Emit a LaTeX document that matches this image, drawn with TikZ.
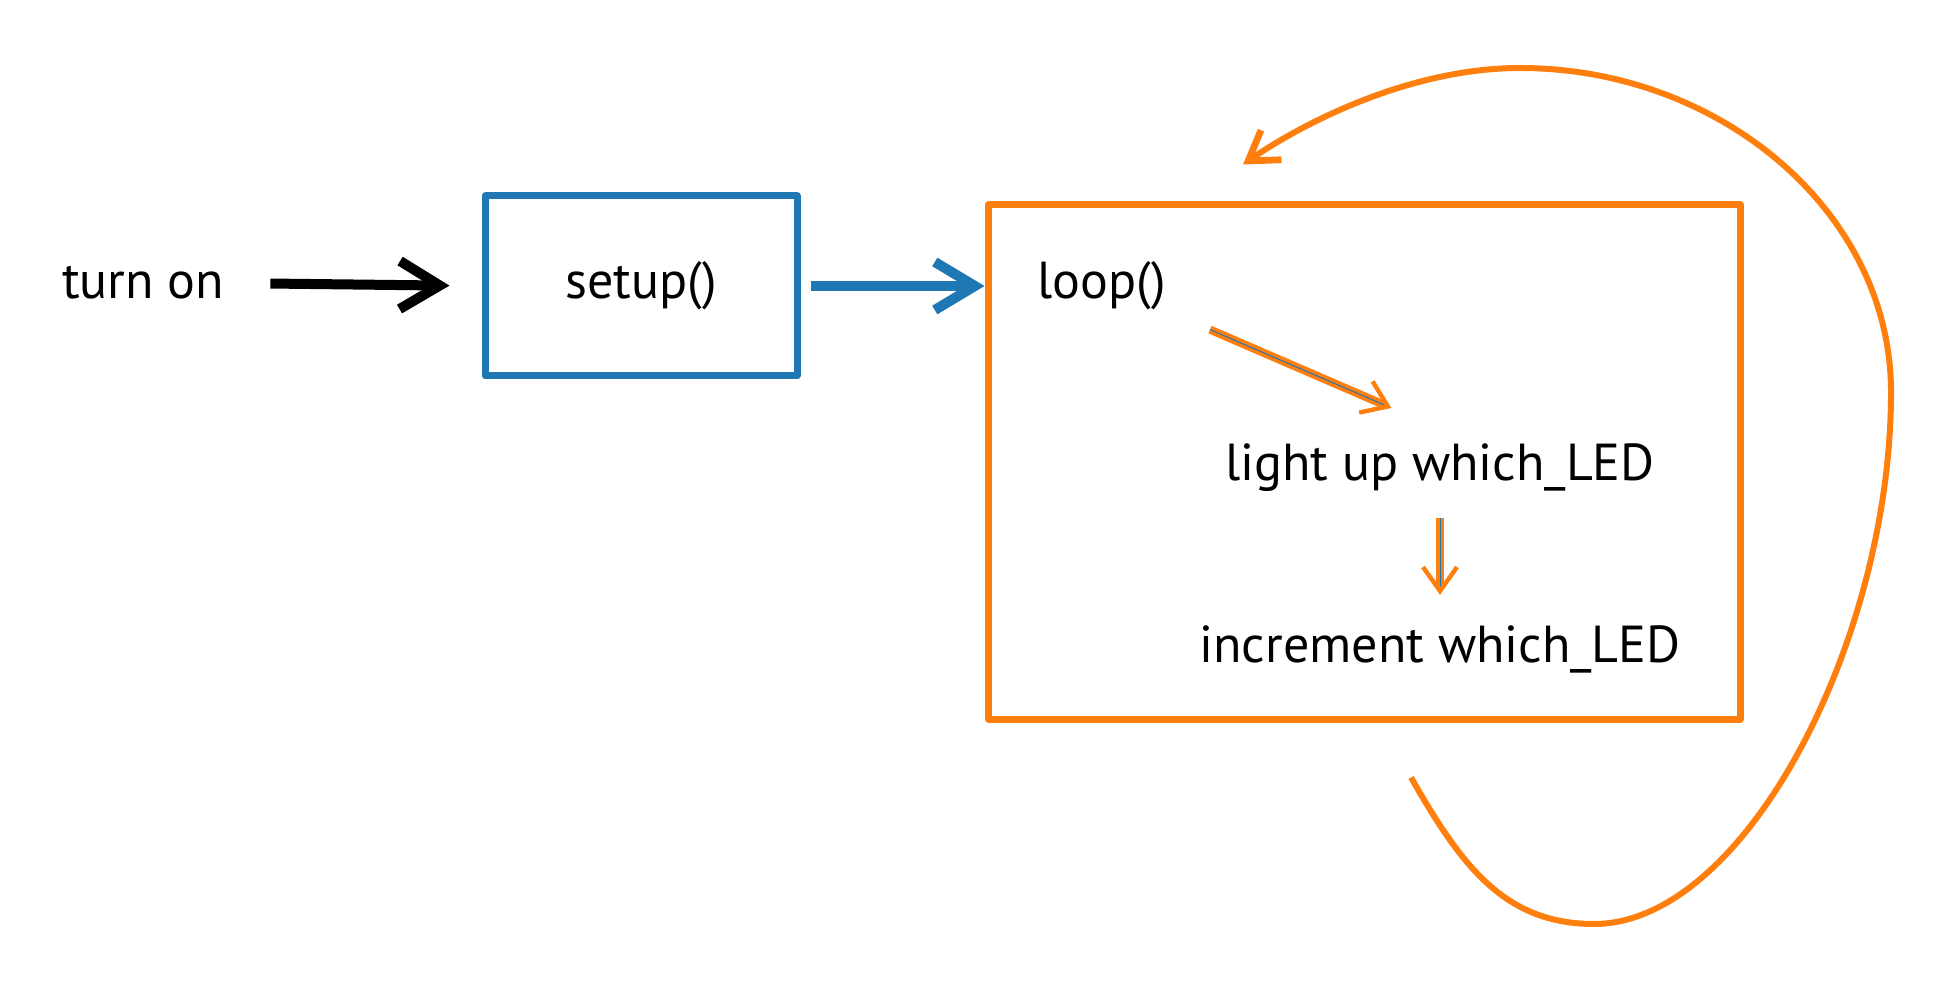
\documentclass[tikz,border=0pt]{standalone}
\usepackage{fontspec}
\setmainfont{PT Sans}
\usetikzlibrary{arrows.meta}
\definecolor{setupblue}{RGB}{31,119,180}
\definecolor{looporange}{RGB}{255,127,14}
\tikzset{
  lbl/.style={font=\fontsize{26}{30}\selectfont, inner sep=0pt},
  sketchbox/.style={draw, rectangle, line width=3.5pt, line join=round, inner sep=0pt},
  fatarrow/.style={line width=5pt, -{Straight Barb[length=20pt,width=24pt,line width=5pt]}},
  thinarrow/.style={looporange, line width=1.8pt, double=setupblue, double distance=0.5pt,
    -{Straight Barb[length=12pt,width=17pt,line width=2.2pt]}},
  looparrow/.style={looporange, line width=3pt, -{Straight Barb[length=14pt,width=18pt,line width=3.4pt]}},
}
\begin{document}
\begin{tikzpicture}[x=0.5pt,y=0.5pt,yscale=-1,xscale=1]
    \useasboundingbox (0,0) rectangle (1953,999);

    %Text
    \node[lbl] (turnon) at (143,283) {turn on};
    %Shape: Rectangle
    \node[sketchbox, setupblue, minimum width=156pt, minimum height=90pt, text=black, font=\fontsize{26}{30}\selectfont] (setup) at (641,286) {setup()};
    %Shape: Rectangle
    \node[sketchbox, looporange, minimum width=376pt, minimum height=257pt] (loop) at (1364,462) {};
    %Text
    \node[lbl, anchor=west] (looplabel) at (1037,286) {loop()};
    \node[lbl] (light) at (1440,468) {light up which\_LED};
    \node[lbl] (incr) at (1440,649) {increment which\_LED};

    %Straight Lines
    \draw[fatarrow, black, shorten <=23pt, shorten >=16pt] (turnon.east) -- (setup.west);
    %Straight Lines
    \draw[fatarrow, setupblue, shorten <=5pt] (setup.east) -- (setup.east -| loop.west);
    %Straight Lines
    \draw[thinarrow, shorten <=24pt, shorten >=45pt] (looplabel.south east) -- ([xshift=17]light.north);
    \draw[thinarrow, shorten <=13pt, shorten >=15pt] (light.south) -- (incr.north);

    %Curve Lines
    \coordinate (loopout) at ([shift={(47,55)}]loop.south);
    \coordinate (loopin) at ([shift={(-121,-37)}]loop.north);
    \draw[looparrow] (loopout) .. controls (1461,865) and (1504,924) .. (1594,924)
      .. controls (1744,924) and (1891,642) .. (1891,392)
      .. controls (1891,212) and (1720,68) .. (1520,68)
      .. controls (1410,68) and (1303,123) .. (loopin);
\end{tikzpicture}
\end{document}
